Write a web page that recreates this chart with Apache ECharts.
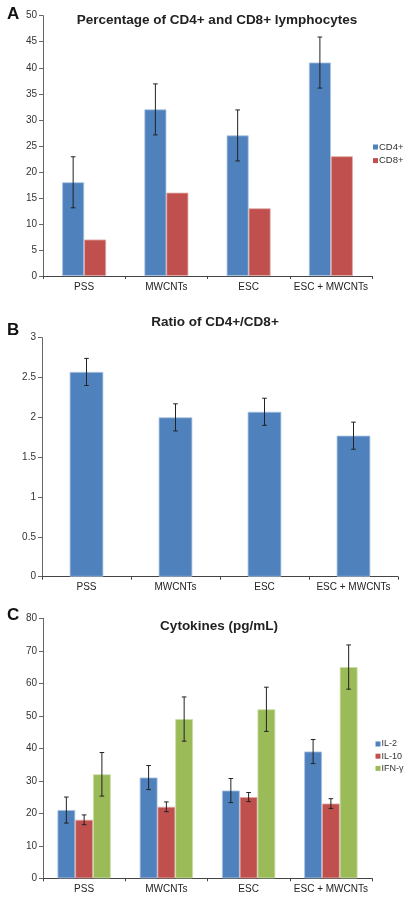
<!DOCTYPE html>
<html>
<head>
<meta charset="utf-8">
<script src="https://cdn.jsdelivr.net/npm/echarts@6/dist/echarts.min.js"></script>
<style>
html,body{margin:0;padding:0;background:#fff;}
#chart{width:409px;height:899px;}
</style>
</head>
<body>
<div id="chart"></div>
<script>
const categories = ['PSS', 'MWCNTs', 'ESC', 'ESC + MWCNTs'];

const cd4 = [18, 32, 27, 41];
const cd4Err = [4.9, 4.9, 4.9, 4.9];
const cd8 = [7, 16, 13, 23];

const ratio = [2.57, 2.0, 2.07, 1.77];
const ratioErr = [0.17, 0.17, 0.17, 0.17];

const il2 = [21, 31, 27, 39];
const il2Err = [4, 3.7, 3.7, 3.7];
const il10 = [18, 22, 25, 23];
const il10Err = [1.5, 1.5, 1.4, 1.5];
const ifn = [32, 49, 52, 65];
const ifnErr = [6.7, 6.8, 6.8, 6.8];

const titlesA = 'Percentage of CD4+ and CD8+ lymphocytes';
const titlesB = 'Ratio of CD4+/CD8+';
const titlesC = 'Cytokines (pg/mL)';

const FONT = 'Arial, "Liberation Sans", sans-serif';
const BLUE = '#4F81BD', RED = '#C0504D', GREEN = '#9BBB59';

const fracA = 0.267, fracB = 0.378, fracC = 0.216;

function errRender(n, idx, frac) {
  return function (params, api) {
    const c = api.value(0), v = api.value(1), e = api.value(2);
    const catW = api.size([1, 0])[0];
    const bw = catW * frac;
    const p = api.coord([c, v]);
    const x = p[0] + (idx - (n - 1) / 2) * bw;
    const yHi = api.coord([c, v + e])[1];
    const yLo = api.coord([c, v - e])[1];
    const cap = 2.3;
    const st = { stroke: '#222', lineWidth: 1 };
    return {
      type: 'group',
      children: [
        { type: 'line', shape: { x1: x, y1: yHi, x2: x, y2: yLo }, style: st },
        { type: 'line', shape: { x1: x - cap, y1: yHi, x2: x + cap, y2: yHi }, style: st },
        { type: 'line', shape: { x1: x - cap, y1: yLo, x2: x + cap, y2: yLo }, style: st }
      ]
    };
  };
}

function errData(vals, errs) {
  return vals.map((v, i) => [i, v, errs[i]]);
}

function xAxis(gi) {
  return {
    type: 'category', gridIndex: gi, data: categories,
    axisLine: { lineStyle: { color: '#444', width: 1 } },
    axisTick: { show: true, length: 3, lineStyle: { color: '#444' } },
    axisLabel: { color: '#222', fontSize: 10, fontFamily: FONT, margin: 6, interval: 0 },
    splitLine: { show: false }
  };
}
function yAxis(gi, max, interval) {
  return {
    type: 'value', gridIndex: gi, min: 0, max: max, interval: interval,
    axisLine: { show: true, lineStyle: { color: '#666', width: 1 } },
    axisTick: { show: true, length: 4, lineStyle: { color: '#666' } },
    axisLabel: { color: '#333', fontSize: 10, fontFamily: FONT, margin: 6 },
    splitLine: { show: false }
  };
}

function bar(name, data, color, border, gi, frac) {
  return {
    name: name, type: 'bar', xAxisIndex: gi, yAxisIndex: gi, data: data,
    barWidth: (frac * 100).toFixed(1) + '%', barGap: '0%',
    itemStyle: { color: color, borderColor: border, borderWidth: 0.8 },
    emphasis: { disabled: true }
  };
}
function err(name, vals, errs, gi, n, idx, frac) {
  return {
    name: name, type: 'custom', xAxisIndex: gi, yAxisIndex: gi,
    renderItem: errRender(n, idx, frac), data: errData(vals, errs), z: 10, silent: true
  };
}

const chart = echarts.init(document.getElementById('chart'), null, { renderer: 'canvas' });
chart.setOption({
  animation: false,
  backgroundColor: '#fff',
  title: [
    { text: titlesA, left: 217, top: 13, textAlign: 'center', padding: 0,
      textStyle: { fontSize: 13.5, fontWeight: 'bold', color: '#222', fontFamily: FONT } },
    { text: titlesB, left: 215, top: 315.5, textAlign: 'center', padding: 0,
      textStyle: { fontSize: 13.5, fontWeight: 'bold', color: '#222', fontFamily: FONT } },
    { text: titlesC, left: 219, top: 619, textAlign: 'center', padding: 0,
      textStyle: { fontSize: 13.5, fontWeight: 'bold', color: '#222', fontFamily: FONT } },
    { text: 'A', left: 7, top: 6, padding: 0,
      textStyle: { fontSize: 17, fontWeight: 'bold', color: '#111', fontFamily: FONT } },
    { text: 'B', left: 7, top: 321.5, padding: 0,
      textStyle: { fontSize: 17, fontWeight: 'bold', color: '#111', fontFamily: FONT } },
    { text: 'C', left: 7, top: 606.5, padding: 0,
      textStyle: { fontSize: 17, fontWeight: 'bold', color: '#111', fontFamily: FONT } }
  ],
  legend: [
    { data: ['CD4+', 'CD8+'], orient: 'vertical', left: 373, top: 142, padding: 0,
      itemWidth: 5, itemHeight: 5, itemGap: 3.6, icon: 'rect', selectedMode: false,
      itemStyle: { borderWidth: 0 },
      textStyle: { fontSize: 9.5, lineHeight: 10, color: '#333', fontFamily: FONT, padding: [0, 0, 0, -4] } },
    { data: ['IL-2', 'IL-10', 'IFN-γ'], orient: 'vertical', left: 375.5, top: 739, padding: 0,
      itemWidth: 5, itemHeight: 5, itemGap: 2.2, icon: 'rect', selectedMode: false,
      itemStyle: { borderWidth: 0 },
      textStyle: { fontSize: 9, lineHeight: 10, color: '#333', fontFamily: FONT, padding: [0, 0, 0, -4] } }
  ],
  grid: [
    { left: 43, top: 15.7, width: 329, height: 260.3 },
    { left: 42, top: 337.7, width: 356, height: 239 },
    { left: 43, top: 618.3, width: 329, height: 260 }
  ],
  xAxis: [xAxis(0), xAxis(1), xAxis(2)],
  yAxis: [yAxis(0, 50, 5), yAxis(1, 3, 0.5), yAxis(2, 80, 10)],
  series: [
    bar('CD4+', cd4, BLUE, '#A9C1E0', 0, fracA),
    bar('CD8+', cd8, RED, '#E0A8A6', 0, fracA),
    err('CD4+ err', cd4, cd4Err, 0, 2, 0, fracA),

    bar('CD4+/CD8+', ratio, BLUE, '#A9C1E0', 1, fracB),
    err('ratio err', ratio, ratioErr, 1, 1, 0, fracB),

    bar('IL-2', il2, BLUE, '#A9C1E0', 2, fracC),
    bar('IL-10', il10, RED, '#E0A8A6', 2, fracC),
    bar('IFN-γ', ifn, GREEN, '#CADDA8', 2, fracC),
    err('IL-2 err', il2, il2Err, 2, 3, 0, fracC),
    err('IL-10 err', il10, il10Err, 2, 3, 1, fracC),
    err('IFN err', ifn, ifnErr, 2, 3, 2, fracC)
  ]
});
</script>
</body>
</html>
